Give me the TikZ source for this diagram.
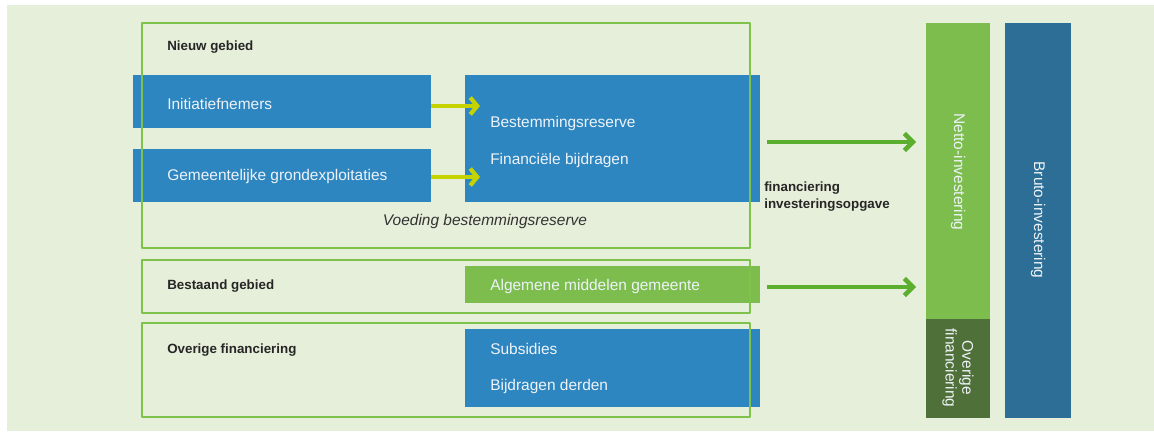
\documentclass[tikz,border=0pt]{standalone}
\usepackage{fontspec}
\setmainfont{Liberation Sans}
\usetikzlibrary{arrows.meta}

\definecolor{achtergrond}{HTML}{E6EFDA}
\definecolor{blauw}{HTML}{2E86C1}
\definecolor{donkerblauw}{HTML}{2C6E96}
\definecolor{lichtgroen}{HTML}{7DBD4E}
\definecolor{donkergroen}{HTML}{4F7038}
\definecolor{kader}{HTML}{7DC24B}
\definecolor{geelgroen}{HTML}{C5D300}
\definecolor{pijlgroen}{HTML}{5BAE2E}
\definecolor{tekstwit}{HTML}{EEF3F8}

\begin{document}
\begin{tikzpicture}[x=0.025cm, y=-0.025cm, font=\fontsize{11}{13}\selectfont, line join=round,
	vlak/.style={draw=none, inner sep=0pt, outer sep=0pt},
	kaderbox/.style={draw=kader, line width=1.3pt, inner sep=0pt, outer sep=0pt},
	kop/.style={font=\fontsize{9.5}{12.8}\selectfont\bfseries, text=black!85, inner sep=0pt},
	tekst/.style={text=tekstwit, anchor=base west, inner sep=0pt},
	gpijl/.style={geelgroen, line width=3pt, -{Straight Barb[length=5pt, width=12pt, line width=3pt]}},
	pijl/.style={pijlgroen, line width=3.2pt, -{Straight Barb[length=6pt, width=12pt, line width=3.2pt]}}]
	% Achtergrond
	\useasboundingbox (0,0) rectangle (1154,432);
	\fill[achtergrond] (7,5) rectangle (1154,431);
	
	% Gekleurde vlakken
	\node[vlak, fill=blauw, minimum width=7.45cm, minimum height=1.325cm] (init) at (282,101.5) {};
	\node[vlak, fill=blauw, minimum width=7.45cm, minimum height=1.325cm] (grex) at (282,175.5) {};
	\node[vlak, fill=blauw, minimum width=7.375cm, minimum height=3.175cm] (reserve) at (612.5,138.5) {};
	\node[vlak, fill=lichtgroen, minimum width=7.375cm, minimum height=0.925cm] (algemeen) at (612.5,284.5) {};
	\node[vlak, fill=blauw, minimum width=7.375cm, minimum height=1.95cm] (subsidie) at (612.5,368) {};
	\node[vlak, fill=lichtgroen, minimum width=1.6cm, minimum height=7.4cm] (netto) at (958,171) {};
	\node[vlak, fill=donkergroen, minimum width=1.6cm, minimum height=2.475cm] (overig) at (958,368.5) {};
	\node[vlak, fill=donkerblauw, minimum width=1.65cm, minimum height=9.875cm] (bruto) at (1038,220.5) {};
	
	% Kaders
	\node[kaderbox, minimum width=15.2cm, minimum height=5.625cm] (nieuw) at (446,135.5) {};
	\node[kaderbox, minimum width=15.2cm, minimum height=1.325cm] (bestaand) at (446,286.5) {};
	\node[kaderbox, minimum width=15.2cm, minimum height=2.35cm] (overige) at (446,370) {};
	
	% Pijlen
	\coordinate (tip1) at (480,106);
	\coordinate (tip2) at (480,177);
	\draw[gpijl] (init.east |- tip1) -- (tip1);
	\draw[gpijl] (grex.east |- tip2) -- (tip2);
	\coordinate (start1) at (767,142);
	\coordinate (start2) at (767,287);
	\draw[pijl, shorten >=0.25cm] (start1) -- (start1 -| netto.west);
	\draw[pijl, shorten >=0.25cm] (start2) -- (start2 -| netto.west);
	
	% Teksten
	\node[kop, anchor=base west] (kopNieuw) at (167,51) {Nieuw gebied};
	\node[kop, anchor=base west] (kopBestaand) at (167,289) {Bestaand gebied};
	\node[kop, anchor=base west] (kopOverige) at (167,353) {Overige financiering};
	\node[kop, anchor=base west, align=left] (kopOpgave) at (764,209) {financiering\\investeringsopgave};
	\node[anchor=base, text=black!80, font=\fontsize{11}{13}\selectfont\itshape, inner sep=0pt] (voeding) at (485,225) {Voeding bestemmingsreserve};
	\foreach \naam/\x/\y/\tekst in {tInit/167/110/Initiatiefnemers, tGrex/167/181/Gemeentelijke grondexploitaties,
		tReserve/490/128/Bestemmingsreserve, tBijdrage/490/165/Financiële bijdragen,
		tAlgemeen/490/290/Algemene middelen gemeente, tSubsidie/490/354/Subsidies, tDerden/490/390/Bijdragen derden} {
		\node[tekst] (\naam) at (\x,\y) {\tekst};
	}
	\node[rotate=-90, text=tekstwit, inner sep=0pt] (tNetto) at (958,172) {Netto-investering};
	\node[rotate=-90, text=tekstwit, inner sep=0pt] (tBruto) at (1038,220) {Bruto-investering};
	\node[rotate=-90, text=tekstwit, inner sep=0pt, align=center, font=\fontsize{11}{12}\selectfont] (tOverig) at (958,368) {Overige\\financiering};
\end{tikzpicture}
\end{document}
